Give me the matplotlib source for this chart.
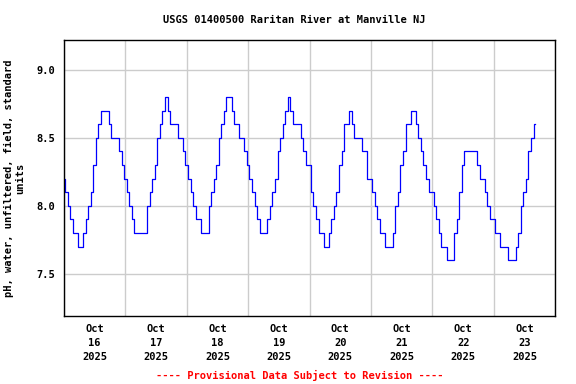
import numpy as np
import pandas as pd
import matplotlib
matplotlib.use("Agg")
import matplotlib.pyplot as plt
import matplotlib.dates as mdates

# hourly pH readings, one list per day
oct16 = [8.2, 8.1, 8.0, 7.9, 7.8, 7.8, 7.7, 7.7, 7.8, 7.9, 8.0, 8.1,
         8.3, 8.5, 8.6, 8.7, 8.7, 8.7, 8.6, 8.5, 8.5, 8.5, 8.4, 8.3]
oct17 = [8.2, 8.1, 8.0, 7.9, 7.8, 7.8, 7.8, 7.8, 7.8, 8.0, 8.1, 8.2,
         8.3, 8.5, 8.6, 8.7, 8.8, 8.7, 8.6, 8.6, 8.6, 8.5, 8.5, 8.4]
oct18 = [8.3, 8.2, 8.1, 8.0, 7.9, 7.9, 7.8, 7.8, 7.8, 8.0, 8.1, 8.2,
         8.3, 8.5, 8.6, 8.7, 8.8, 8.8, 8.7, 8.6, 8.6, 8.5, 8.5, 8.4]
oct19 = [8.3, 8.2, 8.1, 8.0, 7.9, 7.8, 7.8, 7.8, 7.9, 8.0, 8.1, 8.2,
         8.4, 8.5, 8.6, 8.7, 8.8, 8.7, 8.6, 8.6, 8.6, 8.5, 8.4, 8.3]
oct20 = [8.3, 8.1, 8.0, 7.9, 7.8, 7.8, 7.7, 7.7, 7.8, 7.9, 8.0, 8.1,
         8.3, 8.4, 8.6, 8.6, 8.7, 8.6, 8.5, 8.5, 8.5, 8.4, 8.4, 8.2]
oct21 = [8.2, 8.1, 8.0, 7.9, 7.8, 7.8, 7.7, 7.7, 7.7, 7.8, 8.0, 8.1,
         8.3, 8.4, 8.6, 8.6, 8.7, 8.7, 8.6, 8.5, 8.4, 8.3, 8.2, 8.1]
oct22 = [8.1, 8.0, 7.9, 7.8, 7.7, 7.7, 7.6, 7.6, 7.6, 7.8, 7.9, 8.1,
         8.3, 8.4, 8.4, 8.4, 8.4, 8.4, 8.3, 8.2, 8.2, 8.1, 8.0, 7.9]
oct23 = [7.9, 7.8, 7.8, 7.7, 7.7, 7.7, 7.6, 7.6, 7.6, 7.7, 7.8, 8.0,
         8.1, 8.2, 8.4, 8.5, 8.6]

ph = oct16 + oct17 + oct18 + oct19 + oct20 + oct21 + oct22 + oct23
times = pd.date_range("2025-10-16 00:00", periods=len(ph), freq="h")

font = dict(family="DejaVu Sans Mono", weight="bold", size=7.5)

fig = plt.figure(figsize=(5.76, 3.84), dpi=100)
ax = fig.add_axes([0.111, 0.177, 0.853, 0.719])

ax.plot(times, ph, color="#0000ff", linewidth=0.9, drawstyle="steps-mid")

ax.set_xlim(pd.Timestamp("2025-10-16"), pd.Timestamp("2025-10-24"))
ax.set_ylim(7.19, 9.22)

# gridlines at midnight, date labels at noon
ax.xaxis.set_major_locator(mdates.DayLocator())
ax.xaxis.set_major_formatter(plt.NullFormatter())
ax.xaxis.set_minor_locator(mdates.HourLocator(byhour=[12]))
ax.xaxis.set_minor_formatter(mdates.DateFormatter("%b\n%d\n%Y"))
ax.set_yticks([7.5, 8.0, 8.5, 9.0])
ax.set_yticklabels(["7.5", "8.0", "8.5", "9.0"])

ax.tick_params(axis="both", which="both", length=0, pad=6)
for lab in ax.get_xticklabels(minor=True) + ax.get_yticklabels():
    lab.set_fontfamily(font["family"])
    lab.set_fontweight("bold")
    lab.set_fontsize(font["size"])
for lab in ax.get_xticklabels(minor=True):
    lab.set_linespacing(1.45)

ax.grid(True, which="major", color="#cccccc", linewidth=1)
ax.set_axisbelow(True)
for s in ax.spines.values():
    s.set_color("black")
    s.set_linewidth(1)

ax.set_ylabel("pH, water, unfiltered, field, standard\nunits", **font,
              labelpad=8, linespacing=1.25)
fig.text(0.51, 0.948, "USGS 01400500 Raritan River at Manville NJ",
         ha="center", va="center", **font)
fig.text(0.52, 0.023, "---- Provisional Data Subject to Revision ----",
         ha="center", va="center", color="red", **font)

fig.savefig("out.png", dpi=100, facecolor="white")
